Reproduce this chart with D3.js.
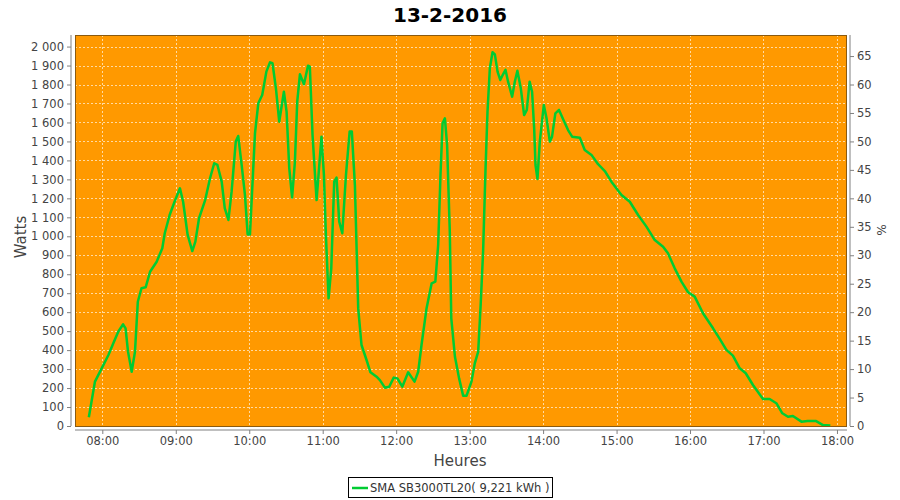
<!DOCTYPE html>
<html>
<head>
<meta charset="utf-8">
<script src="https://cdn.jsdelivr.net/npm/d3@7"></script>
<style>
  body { margin: 0; background: #fff; }
  svg { display: block; font-family: "DejaVu Sans", sans-serif; }
</style>
</head>
<body>
<svg id="chart" width="900" height="500"></svg>
<script>
// ---- data ----
const title = "13-2-2016";
const seriesName = "SMA SB3000TL20( 9,221 kWh )";
// minutes since midnight
const minutes = [469,474,479.5,485,489,493,497,499,501,504,506.7,509,512,515.4,519,524.4,529,531,535,539,543.4,546,549.7,553.5,556,559,564,568,571.4,574,577.5,580,583,585.6,589,591,593.8,596.5,598.7,600.6,604.7,607.4,610.6,614,617,619,621.8,624.5,628.3,630.5,632.7,635,637.3,639.2,641.4,644.7,648,649.5,651.7,655,659,661,662.6,664.8,667,669.4,671.3,673.5,676,679,682,683.8,686.3,689,691.7,695.8,699,704,706.7,710.8,714.3,718,721,725,729.8,735,738,740.7,744.8,749,752,754.3,756.2,757.9,759.8,761.6,763.8,765,768,771.4,774.7,777.5,779.6,781.5,784.2,787,789,791,793,794.6,796.5,798.7,800.6,802.8,805,807.3,809.3,811.4,814.7,816.9,819,821.8,824.5,826.7,829,831,832.7,833.8,835.4,837.3,840.6,842.8,845.5,847.3,850,853,857,860.4,863.7,870,874,879.5,884.9,890.4,895.8,904,910.8,917.6,924.4,931.2,938,942,947.5,953,958.4,963.8,970.6,978.8,984,989.7,995,1000.6,1005.5,1011.4,1019.6,1025,1030.5,1035.4,1040,1044,1051,1056,1063,1068.6,1074.6];
const watts = [46,234,304,374,436,497,536,515,392,286,392,655,726,731,813,866,937,1016,1112,1182,1253,1182,1007,922,972,1095,1191,1306,1385,1376,1288,1148,1086,1235,1499,1529,1376,1218,1010,1010,1543,1701,1745,1868,1917,1912,1780,1604,1762,1657,1358,1204,1393,1710,1854,1801,1899,1894,1534,1191,1525,1323,1007,673,831,1288,1309,1077,1016,1323,1552,1552,1270,620,427,348,283,260,242,202,207,255,251,207,283,234,286,427,620,752,761,954,1323,1596,1622,1481,1024,568,365,251,160,160,199,234,330,392,638,919,1358,1657,1886,1970,1959,1868,1824,1854,1877,1815,1736,1815,1873,1780,1639,1666,1815,1762,1569,1376,1302,1499,1692,1622,1499,1525,1648,1666,1608,1560,1525,1520,1455,1429,1380,1344,1288,1218,1182,1112,1051,980,945,910,831,761,705,682,594,515,462,401,371,304,278,216,142,142,120,67,49,53,23,26,26,5,2];
const yTicks = d3.range(0, 2001, 100);
const pctTicks = d3.range(0, 66, 5);
const xTickHours = [8,9,10,11,12,13,14,15,16,17,18];

// ---- layout ----
const svg = d3.select("#chart");
const plot = { left: 75, top: 35, right: 847, bottom: 426 };
const base = new Date(2016, 1, 13, 0, 0, 0).getTime();
const toDate = m => new Date(base + m * 60000);

const x = d3.scaleTime()
  .domain([toDate(7 * 60 + 37.7), toDate(18 * 60 + 8.2)])
  .range([plot.left, plot.right]);
const y = d3.scaleLinear().domain([0, 2061]).range([plot.bottom, plot.top]);
const y2 = d3.scaleLinear().domain([0, 2061 / 30]).range([plot.bottom, plot.top]);

const data = minutes.map((m, i) => ({ t: toDate(m), w: watts[i] }));
const xTicks = xTickHours.map(h => toDate(h * 60));

// plot background
svg.append("rect")
  .attr("x", plot.left).attr("y", plot.top)
  .attr("width", plot.right - plot.left).attr("height", plot.bottom - plot.top)
  .attr("fill", "#ff9900");

// grid
const grid = svg.append("g").attr("stroke", "#ffe6bf").attr("stroke-width", 1)
  .attr("stroke-dasharray", "2,2").attr("opacity", 0.85);
grid.selectAll("line.h").data(yTicks.slice(1)).join("line")
  .attr("x1", plot.left).attr("x2", plot.right)
  .attr("y1", d => Math.round(y(d)) + 0.5).attr("y2", d => Math.round(y(d)) + 0.5);
grid.selectAll("line.v").data(xTicks).join("line")
  .attr("y1", plot.top).attr("y2", plot.bottom)
  .attr("x1", d => Math.round(x(d)) + 0.5).attr("x2", d => Math.round(x(d)) + 0.5);

// line
svg.append("path")
  .datum(data)
  .attr("fill", "none")
  .attr("stroke", "#00cc33")
  .attr("stroke-width", 2.5)
  .attr("stroke-linejoin", "round")
  .attr("d", d3.line().x(d => x(d.t)).y(d => y(d.w)));

// plot outline
svg.append("rect")
  .attr("x", plot.left + 0.5).attr("y", plot.top + 0.5)
  .attr("width", plot.right - plot.left - 1).attr("height", plot.bottom - plot.top)
  .attr("fill", "none").attr("stroke", "#8a5a10").attr("stroke-width", 1);

const fmtW = d3.formatLocale({ decimal: ",", thousands: "\u00a0", grouping: [3], currency: ["", ""] }).format(",d");

// left axis
const gl = svg.append("g").attr("transform", `translate(${plot.left - 4},0)`)
  .call(d3.axisLeft(y).tickValues(yTicks).tickFormat(fmtW).tickSize(4).tickSizeOuter(0));
// right axis
const gr = svg.append("g").attr("transform", `translate(${plot.right + 3},0)`)
  .call(d3.axisRight(y2).tickValues(pctTicks).tickSize(4).tickSizeOuter(0));
// bottom axis
const gb = svg.append("g").attr("transform", `translate(0,${plot.bottom + 4})`)
  .call(d3.axisBottom(x).tickValues(xTicks).tickFormat(d3.timeFormat("%H:%M")).tickSize(4).tickSizeOuter(0));

[gl, gr, gb].forEach(g => {
  g.select(".domain").attr("stroke", "#808080");
  g.selectAll(".tick line").attr("stroke", "#808080");
  g.selectAll(".tick text").attr("fill", "#444").attr("font-size", 11.5)
    .attr("font-family", "DejaVu Sans, sans-serif");
});
gl.select(".domain").attr("d", `M0,${plot.bottom}V${plot.top}`);
gr.select(".domain").attr("d", `M0,${plot.bottom}V${plot.top}`);
gb.select(".domain").attr("d", `M${plot.left},0H${plot.right}`);

// titles
svg.append("text").attr("x", 450).attr("y", 22).attr("text-anchor", "middle")
  .attr("font-size", 20).attr("font-weight", "bold").attr("fill", "#000").text(title);
svg.append("text").attr("transform", "translate(26,237) rotate(-90)")
  .attr("text-anchor", "middle").attr("font-size", 15).attr("fill", "#444").text("Watts");
svg.append("text").attr("transform", "translate(877,230) rotate(90)")
  .attr("text-anchor", "middle").attr("font-size", 12).attr("fill", "#444").text("%");
svg.append("text").attr("x", 460).attr("y", 466).attr("text-anchor", "middle")
  .attr("font-size", 15).attr("fill", "#444").text("Heures");

// legend
const lg = svg.append("g");
lg.append("rect").attr("x", 348.5).attr("y", 477.5).attr("width", 204).attr("height", 20)
  .attr("fill", "#fff").attr("stroke", "#000");
lg.append("line").attr("x1", 352).attr("x2", 368).attr("y1", 488).attr("y2", 488)
  .attr("stroke", "#00cc33").attr("stroke-width", 2.5);
lg.append("text").attr("x", 370).attr("y", 492).attr("font-size", 11.5).attr("fill", "#333")
  .text(seriesName);
</script>
</body>
</html>
